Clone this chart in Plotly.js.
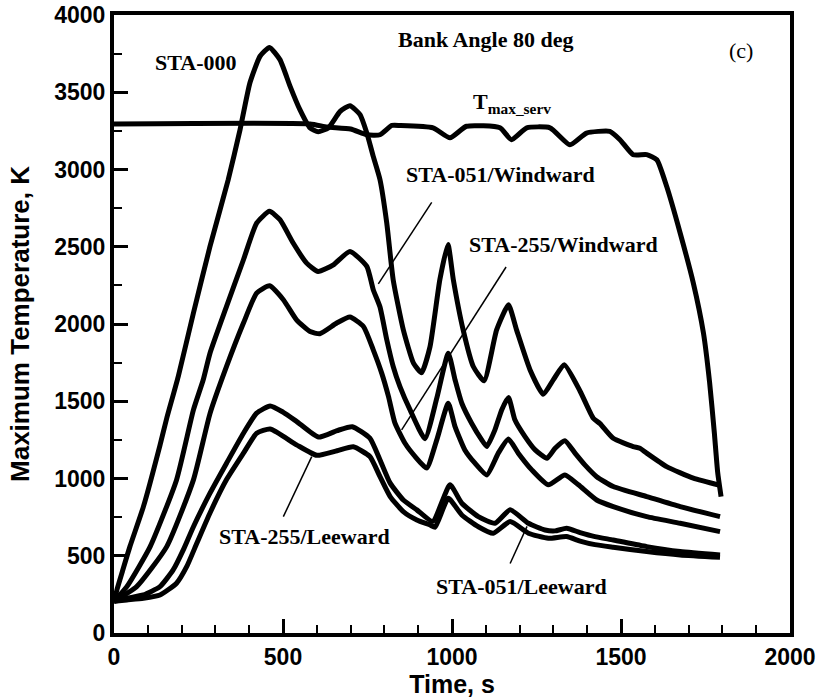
<!DOCTYPE html>
<html>
<head>
<meta charset="utf-8">
<script src="https://cdn.plot.ly/plotly-3.0.1.min.js"></script>
<style>
  html, body { margin: 0; padding: 0; background: #fff; }
  #chart { width: 818px; height: 699px; }
</style>
</head>
<body>
<div id="chart"></div>
<script>
// Maximum temperature histories, bank angle 80 deg (time in s, temperature in K)

const timeSta000 = [0, 10, 25, 47, 87, 136, 156, 190, 235, 284, 338, 373, 402, 432, 460, 491, 521, 550, 580, 604, 634, 669, 698, 728, 748, 767, 787, 807, 826, 856, 886, 910, 935, 964, 988, 1004, 1033, 1063, 1095, 1132, 1167, 1191, 1231, 1270, 1300, 1332, 1379, 1418, 1438, 1477, 1536, 1556, 1576, 1635, 1714, 1793];
const tempSta000 = [200, 290, 400, 559, 818, 1215, 1390, 1660, 2071, 2502, 2934, 3258, 3560, 3733, 3790, 3711, 3538, 3387, 3269, 3245, 3269, 3376, 3413, 3355, 3236, 3085, 2934, 2653, 2286, 1962, 1747, 1685, 1854, 2286, 2515, 2286, 1962, 1725, 1632, 1962, 2124, 1962, 1703, 1545, 1640, 1736, 1565, 1390, 1355, 1260, 1207, 1196, 1164, 1077, 1002, 955];

const timeServ = [0, 580, 630, 700, 748, 787, 822, 846, 944, 994, 1043, 1142, 1176, 1221, 1290, 1349, 1398, 1467, 1497, 1536, 1576, 1606, 1635, 1675, 1714, 1744, 1762, 1776, 1786, 1796];
const tempServ = [3295, 3295, 3275, 3262, 3225, 3225, 3285, 3285, 3270, 3205, 3280, 3270, 3193, 3270, 3270, 3160, 3236, 3247, 3193, 3096, 3096, 3063, 2891, 2589, 2265, 1941, 1625, 1300, 1040, 883];

const timeSta051W = [0, 38, 107, 185, 235, 264, 284, 333, 383, 422, 460, 491, 530, 570, 604, 649, 698, 748, 767, 787, 807, 826, 846, 876, 920, 955, 989, 1009, 1029, 1058, 1088, 1103, 1127, 1147, 1167, 1186, 1216, 1246, 1281, 1305, 1334, 1364, 1393, 1428, 1477, 1576, 1675, 1793];
const tempSta051W = [205, 300, 559, 991, 1444, 1639, 1811, 2114, 2416, 2653, 2729, 2675, 2524, 2394, 2340, 2383, 2470, 2373, 2222, 2110, 1898, 1725, 1595, 1444, 1258, 1520, 1811, 1639, 1487, 1358, 1250, 1207, 1315, 1444, 1525, 1380, 1271, 1185, 1131, 1196, 1245, 1164, 1088, 1012, 948, 883, 818, 753];

const timeSta255W = [0, 67, 156, 235, 284, 333, 383, 422, 460, 501, 540, 580, 609, 659, 698, 738, 767, 792, 812, 831, 861, 891, 925, 955, 989, 1009, 1038, 1068, 1103, 1137, 1167, 1196, 1236, 1285, 1334, 1374, 1428, 1477, 1576, 1675, 1793];
const tempSta255W = [205, 300, 559, 991, 1420, 1725, 2006, 2200, 2247, 2157, 2027, 1951, 1937, 2006, 2045, 1984, 1833, 1682, 1531, 1360, 1228, 1142, 1067, 1250, 1487, 1336, 1185, 1099, 1023, 1164, 1255, 1164, 1056, 959, 1023, 959, 861, 818, 753, 710, 656];

const timeSta051L = [0, 38, 87, 136, 175, 205, 235, 284, 333, 383, 422, 462, 500, 540, 605, 660, 705, 757, 787, 817, 856, 896, 943, 994, 1029, 1078, 1127, 1172, 1226, 1275, 1305, 1339, 1379, 1423, 1477, 1576, 1675, 1793];
const tempSta051L = [205, 225, 246, 300, 408, 538, 688, 905, 1099, 1293, 1423, 1470, 1430, 1370, 1268, 1310, 1335, 1261, 1120, 970, 861, 797, 722, 959, 840, 753, 710, 797, 710, 667, 661, 678, 650, 624, 602, 559, 527, 505];

const timeSta255L = [0, 38, 87, 136, 185, 215, 245, 284, 333, 383, 422, 462, 540, 600, 660, 708, 757, 787, 817, 856, 896, 935, 950, 989, 1029, 1078, 1122, 1172, 1226, 1285, 1339, 1379, 1423, 1477, 1576, 1675, 1793];
const tempSta255L = [205, 214, 225, 246, 322, 429, 581, 777, 993, 1164, 1293, 1320, 1218, 1150, 1180, 1205, 1142, 1012, 883, 786, 732, 699, 685, 872, 764, 688, 646, 721, 646, 613, 624, 595, 572, 555, 527, 505, 490];

const xTicks = [0, 500, 1000, 1500, 2000];
const yTicks = [0, 500, 1000, 1500, 2000, 2500, 3000, 3500, 4000];

// Curve labels: [text, time, temperature, bold]
const curveLabels = [
  ['STA-000', 243, 3692, true],
  ['Bank Angle 80 deg', 1100, 3841, true],
  ['(c)', 1855, 3769, false],
  ['STA-051/Windward', 1142, 2966, true],
  ['STA-255/Windward', 1331, 2513, true],
  ['STA-255/Leeward', 565, 622, true],
  ['STA-051/Leeward', 1207, 304, true]
];
// Service-limit label, anchored at its left edge
const servLabel = ['T<sub>max_serv</sub>', 1056, 3433];

// Leader lines from labels to curves: [t0, T0, t1, T1]
const leaders = [
  [940, 2787, 782, 2260],
  [1160, 2369, 851, 1315],
  [501, 753, 585, 1142],
  [1172, 450, 1222, 690]
];

const series = [
  ['STA-000', timeSta000, tempSta000],
  ['T max serv', timeServ, tempServ],
  ['STA-051/Windward', timeSta051W, tempSta051W],
  ['STA-255/Windward', timeSta255W, tempSta255W],
  ['STA-051/Leeward', timeSta051L, tempSta051L],
  ['STA-255/Leeward', timeSta255L, tempSta255L]
];

const traces = series.map(([name, t, T]) => ({
  type: 'scatter',
  mode: 'lines',
  name: name,
  x: t,
  y: T,
  line: { color: '#000', width: 5, shape: 'spline', smoothing: 0.5 },
  hoverinfo: 'x+y+name'
}));

const serif = 'Liberation Serif, Times New Roman, serif';
const sans = 'Liberation Sans, Arial, sans-serif';

const annotations = curveLabels.map(([txt, x, y, bold]) => ({
  x: x, y: y, xref: 'x', yref: 'y',
  text: txt, showarrow: false,
  xanchor: 'center', yanchor: 'middle',
  font: { family: serif, size: 22, color: '#000', weight: bold ? 'bold' : 'normal' }
}));
annotations.push({
  x: servLabel[1], y: servLabel[2], xref: 'x', yref: 'y',
  text: servLabel[0], showarrow: false,
  xanchor: 'left', yanchor: 'middle',
  font: { family: serif, size: 22, color: '#000', weight: 'bold' }
});

const shapes = leaders.map(([x0, y0, x1, y1]) => ({
  type: 'line', xref: 'x', yref: 'y',
  x0: x0, y0: y0, x1: x1, y1: y1,
  line: { color: '#000', width: 1.5 }
}));

const layout = {
  width: 818,
  height: 699,
  margin: { l: 114, r: 28, t: 15, b: 66 },
  paper_bgcolor: '#fff',
  plot_bgcolor: '#fff',
  showlegend: false,
  xaxis: {
    range: [0, 2000],
    tickvals: xTicks,
    ticktext: xTicks.map(String),
    ticks: 'inside', ticklen: 14, tickwidth: 3, tickcolor: '#000',
    minor: { dtick: 100, ticks: 'inside', ticklen: 8, tickwidth: 2, tickcolor: '#000' },
    showline: true, linewidth: 4, linecolor: '#000', mirror: true,
    showgrid: false, zeroline: false,
    tickfont: { family: sans, size: 23, color: '#000', weight: 'bold' },
    title: { text: 'Time, s', font: { family: sans, size: 25, color: '#000', weight: 'bold' }, standoff: 5 }
  },
  yaxis: {
    range: [0, 4000],
    tickvals: yTicks,
    ticktext: yTicks.map(String),
    ticks: 'inside', ticklen: 14, tickwidth: 3, tickcolor: '#000',
    minor: { dtick: 250, ticks: 'inside', ticklen: 8, tickwidth: 2, tickcolor: '#000' },
    showline: true, linewidth: 4, linecolor: '#000', mirror: true,
    showgrid: false, zeroline: false,
    tickfont: { family: sans, size: 23, color: '#000', weight: 'bold' },
    title: { text: 'Maximum Temperature, K', font: { family: sans, size: 26, color: '#000', weight: 'bold' }, standoff: 18 }
  },
  annotations: annotations,
  shapes: shapes
};

Plotly.newPlot('chart', traces, layout, { displayModeBar: false, staticPlot: true });
</script>
</body>
</html>
